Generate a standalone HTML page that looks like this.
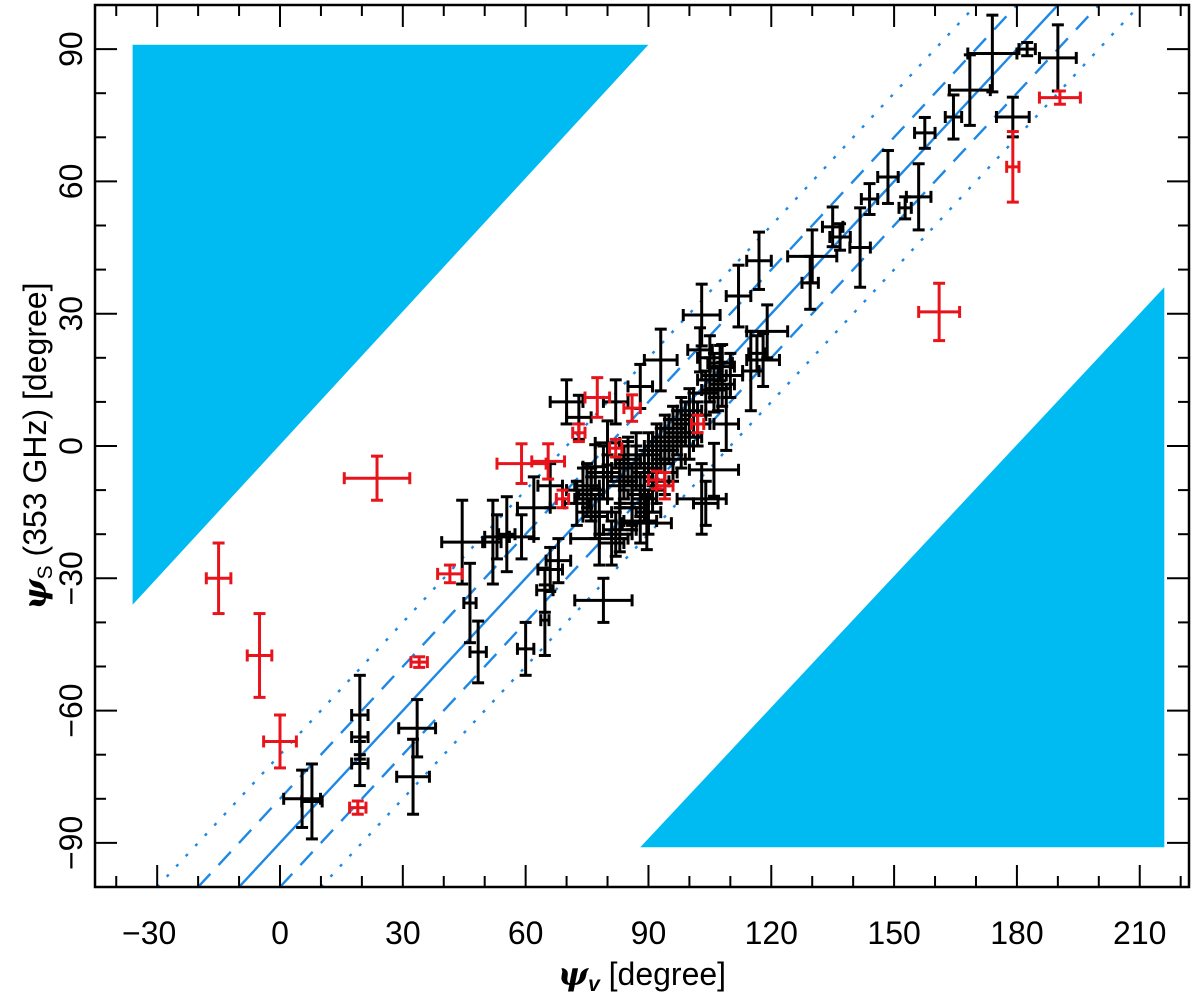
<!DOCTYPE html>
<html><head><meta charset="utf-8"><style>
html,body{margin:0;padding:0;background:#fff}
svg{display:block}
text{font-family:"Liberation Sans",sans-serif;fill:#000}
</style></head><body>
<svg id="chart" width="1200" height="999" viewBox="0 0 1200 999" xmlns="http://www.w3.org/2000/svg">
<g id="bg"></g>
<g id="lines"></g>
<g id="pts"></g>
<g id="axes"></g>
<text x="642" y="985" font-size="32" text-anchor="middle"><tspan font-style="italic" font-weight="bold" font-family="DejaVu Serif, serif">ψ</tspan><tspan font-size="21" dy="6" font-style="italic" font-weight="bold">v</tspan><tspan dy="-6"> [degree]</tspan></text>
<text transform="translate(46,446) rotate(-90)" font-size="32" text-anchor="middle"><tspan font-style="italic" font-weight="bold" font-family="DejaVu Serif, serif">ψ</tspan><tspan font-size="21" dy="6">S</tspan><tspan dy="-6"> (353 GHz) [degree]</tspan></text>
</svg>
<script>
const xTicks=[-30,0,30,60,90,120,150,180,210];
const yTicks=[-90,-60,-30,0,30,60,90];
const offsets=[0,-10,10,-20,20];
const upperTri=[[-36,91],[90,91],[-36,-36]];
const lowerTri=[[88,-91],[216,-91],[216,36]];
// black points: x, y, xerr, yerr
const blackX=[174,182.5,190,179,168.5,164.5,157.5,148.5,144,152.7,156,141.7,136.8,135,130,129.5,117,112,119,103,118,115,107.5,106,102.6,109,93,106,103,82,73,88,80,77,75,83,86,72.5,66,89.6,83,78,59,53,116.5,44.5,52,55.4,46.4,48.4,19.5,19.5,19.5,33.5,32.5,5.4,7.8,60,64.7,64.7,68,78,88,79,90,92,94,96,98,100,89,91,93,95,97,99,101,104,105,108,110,85,87,84,86,88,92,94,96,98,100,102,70,74,76,80,84,62,66,81,83,85,87,89,91,79,77,76,82,86,90,104,106,108,107,105];
const blackY=[89,90,88,74.6,80.7,74.6,71,61,56,54,56.5,45,47.4,49.7,43,37,42,34,26,29.7,19.5,17,18.8,12.7,21.8,5,19.5,-5.4,-12,10,6.5,13.5,0.7,-4.7,-9,-9,-13,-13,-9,-17.5,-19,-15,-20.6,-20.6,21,-21.8,-21.8,-20,-35.6,-46.7,-61,-66,-72,-64,-75,-80,-80.6,-46,-32.7,-39.5,-26,-21,-17,-35,-2,0,2,4,6,8,-6,-4,-1,1,3,5,7,12,15,14,16,-3,-5,-7,-9,-11,-8,-6,-3,0,2,5,10,-10,-12,-7,-5,-14,-28,-22,-8,-4,-2,-12,-10,-6,-16,-11,-20,-14,-15,-13,16,18,13,20,10];
const blackEX=[6,2,4.5,4,5,2,2.5,2.5,2,1.5,3,2.5,2.5,2.5,6,2,3,3,5,4.5,4,2,3,3,3,3,4,6,6,3,3,3,3,3,3,3,3,3,3,6,4,3,3,3,2,5,2,2,1.5,2,2,2,2,4.5,4,4.5,2.5,2,2,1,3,7,4,7,3,3,3,3,3,3,3,3,3,3,3,3,3,3,3,3,3,3,3,3,3,3,3,3,3,3,3,3,4,4,4,4,3,4,3,3,3,3,3,3,3,4,3,3,4,3,3,3,3,3,3,3];
const blackEY=[8.7,1.5,7.5,4.5,8,5,3.5,6,3.5,2.5,7.5,9,3,4.5,6,6,6.5,7,6,7,6,9,4,5,5,6,7,6,8,5,5,5,5,5,5,5,5,5,5,6,5,5,5,5,4,9.5,9.5,8.5,9,7,9,5,5,6.5,8.5,6.5,8.5,6,5,8,5,6,5,5,5,5,5,5,5,5,5,5,5,5,5,5,5,5,5,5,5,5,5,5,5,5,5,5,5,5,5,5,5,5,5,5,5,7,5,5,5,5,5,5,5,6,5,6,5,5,5,5,5,5,5,5];
// red points
const redX=[161,179,190.5,23.7,-15,-5,0,41.5,34,19,77.5,86,73,82,102,59,65.5,92,94,69];
const redY=[30.4,63.3,79,-7.3,-30,-47.5,-67,-29,-49,-82,11,8.6,3,-0.5,5,-4,-3.5,-7.7,-9,-12];
const redEX=[5,1.5,5,8,3,3,4,3,2,2,3,2,1.5,1.5,1.5,6,4,2,2,1.5];
const redEY=[6.5,8,1.5,5,8,9.5,6,2,1.2,1.5,4.5,3,2,2,2,4.5,4,2,3,2];

const L=95,R=1189,T=5,B=887,X0=280,XS=4.094,Y0=446,YS=4.41;
const yDom=[-100,100];
function sx(v){return X0+v*XS}
function sy(v){return Y0-v*YS}
const NS="http://www.w3.org/2000/svg";
function mk(tag,attrs,parent){const e=document.createElementNS(NS,tag);for(const k in attrs)e.setAttribute(k,attrs[k]);parent.appendChild(e);return e;}

const bg=document.getElementById('bg');
[upperTri,lowerTri].forEach((tri,i)=>{
  const p=mk('polygon',{points:tri.map(q=>sx(q[0])+','+sy(q[1])).join(' '),fill:'#00BAF2'},bg);
  
  
});

const lines=document.getElementById('lines');
const clip=mk('clipPath',{id:'cp'},lines); mk('rect',{x:L,y:T,width:R-L,height:B-T},clip);
offsets.forEach(o=>{
  const x1=yDom[0]+90-o, x2=yDom[1]+90-o;
  const dash=o===0?'none':(Math.abs(o)===10?'18,12':'3,11');
  const ln=mk('line',{x1:sx(x1),y1:sy(yDom[0]),x2:sx(x2),y2:sy(yDom[1]),stroke:'#1E88E5','stroke-width':2.4,'stroke-dasharray':dash,'clip-path':'url(#cp)'},lines);
  
  
});

const pts=document.getElementById('pts');
function drawPt(x,y,ex,ey,col,name){
  const g=mk('g',{stroke:col,'stroke-width':3,fill:'none'},pts);
  
  
  const cx=sx(x),cy=sy(y),x1=sx(x-ex),x2=sx(x+ex),y1=sy(y+ey),y2=sy(y-ey);
  mk('line',{x1:x1,y1:cy,x2:x2,y2:cy},g);
  mk('line',{x1:cx,y1:y1,x2:cx,y2:y2},g);
  mk('line',{x1:x1,y1:cy-6,x2:x1,y2:cy+6},g);
  mk('line',{x1:x2,y1:cy-6,x2:x2,y2:cy+6},g);
  mk('line',{x1:cx-6,y1:y1,x2:cx+6,y2:y1},g);
  mk('line',{x1:cx-6,y1:y2,x2:cx+6,y2:y2},g);
}
blackX.forEach((x,i)=>drawPt(x,blackY[i],blackEX[i],blackEY[i],'#000','black-data-point'));
redX.forEach((x,i)=>drawPt(x,redY[i],redEX[i],redEY[i],'#E8141B','red-data-point'));

const ax=document.getElementById('axes');
const fr=mk('rect',{x:L,y:T,width:R-L,height:B-T,fill:'none',stroke:'#000','stroke-width':2.5},ax);


for(let v=-40;v<=220;v+=10){
  const px=sx(v); if(px<L+1||px>R-1)continue;
  const major=xTicks.includes(v), len=major?22:11;
  mk('line',{x1:px,y1:B,x2:px,y2:B-len,stroke:'#000','stroke-width':2},ax);
  mk('line',{x1:px,y1:T,x2:px,y2:T+len,stroke:'#000','stroke-width':2},ax);
}
for(let v=-90;v<=90;v+=10){
  const py=sy(v), major=yTicks.includes(v), len=major?22:11;
  mk('line',{x1:L,y1:py,x2:L+len,y2:py,stroke:'#000','stroke-width':2},ax);
  mk('line',{x1:R,y1:py,x2:R-len,y2:py,stroke:'#000','stroke-width':2},ax);
}
xTicks.forEach(v=>{
  const t=mk('text',{x:sx(v)-(v<0?8:0),y:944,'font-size':32,'text-anchor':'middle'},ax);
  t.textContent=(v<0?'\u2212':'')+Math.abs(v);
  
  
});
yTicks.forEach(v=>{
  const t=mk('text',{transform:'translate(82,'+sy(v)+') rotate(-90)','font-size':32,'text-anchor':'middle'},ax);
  t.textContent=(v<0?'\u2212':'')+Math.abs(v);
  
  
});
</script>
</body></html>
